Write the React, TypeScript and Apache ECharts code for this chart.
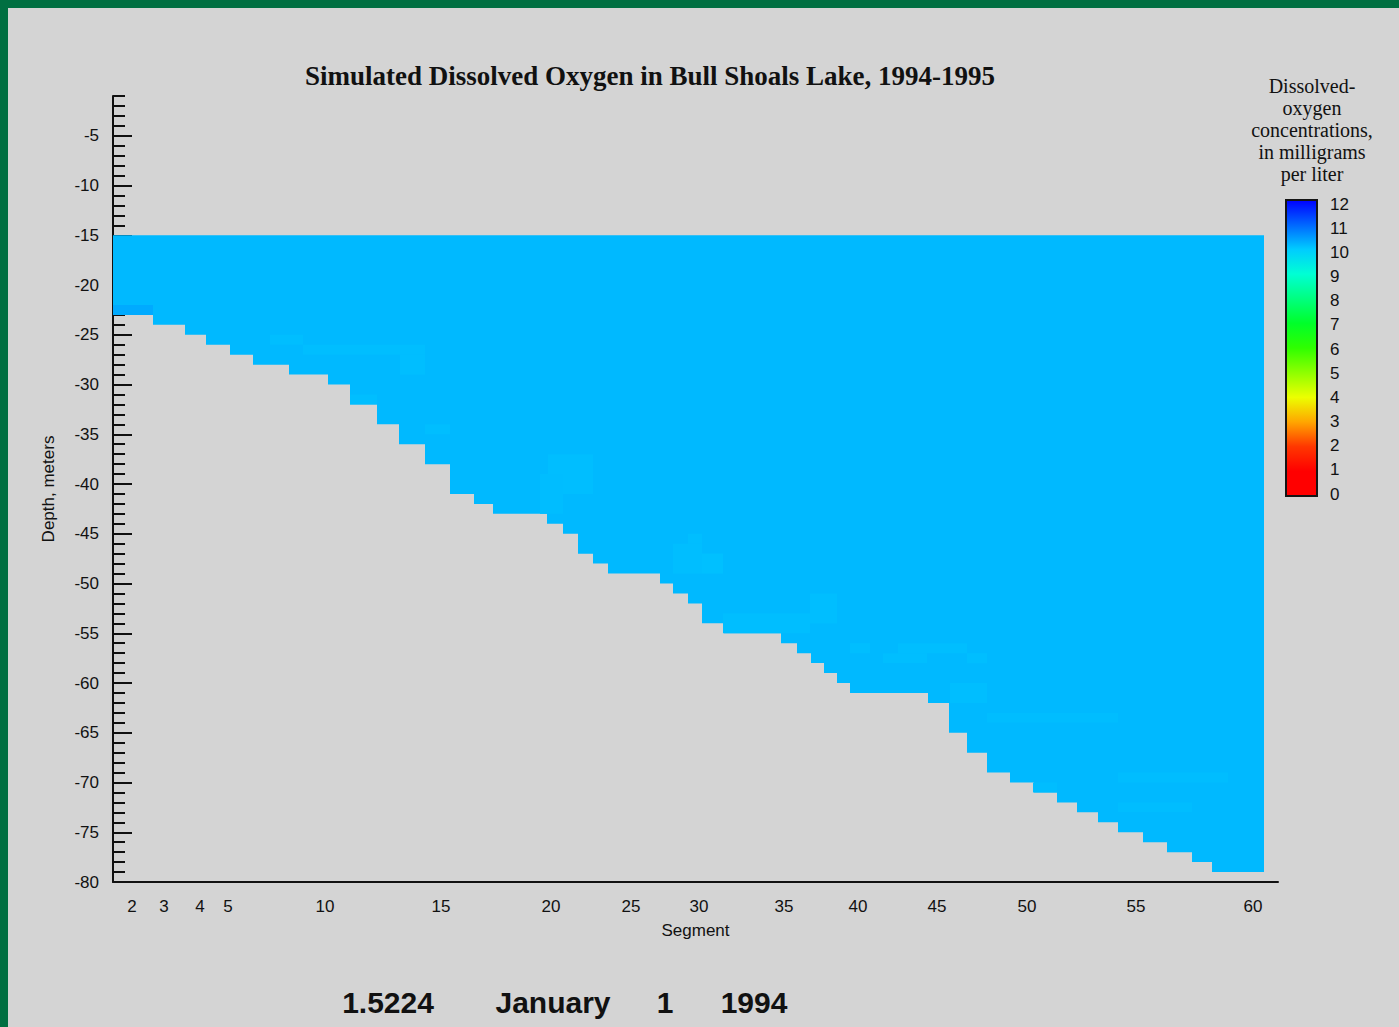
import React, { useEffect, useRef } from "react";
import * as echarts from "echarts";

// ---- Data ----
// x axis: distance along the lake (km); segments are labelled at these positions
const segmentTicks = [2, 3, 4, 5, 10, 15, 20, 25, 30, 35, 40, 45, 50, 55, 60];
const segmentTickKm = [1.9, 5.1, 8.7, 11.5, 21.2, 32.8, 43.8, 51.8, 58.6, 67.1, 74.5, 82.4, 91.4, 102.3, 114.0];

// bottom profile: start of each column (km) and bottom elevation (m)
const profileStartKm = [
  0, 4.0, 7.2, 9.3, 11.7, 14.0, 17.6, 21.5, 23.7, 26.4,
  28.6, 31.2, 33.7, 36.1, 38.0, 43.4, 45.0, 46.5, 48.0, 49.5,
  54.7, 56.0, 57.5, 58.9, 61.1, 66.8, 68.4, 69.8, 71.1, 72.4,
  73.7, 81.5, 83.6, 85.4, 87.4, 89.7, 92.1, 94.4, 96.4, 98.5,
  100.5, 103.0, 105.4, 107.9, 109.9,
];
const profileEndKm = 115.1;
const profileBottom = [
  -23, -24, -25, -26, -27, -28, -29, -30, -32, -34,
  -36, -38, -41, -42, -43, -44, -45, -47, -48, -49,
  -50, -51, -52, -54, -55, -56, -57, -58, -59, -60,
  -61, -62, -65, -67, -69, -70, -71, -72, -73, -74,
  -75, -76, -77, -78, -79,
];
const surfaceElevation = -15;
const baseDO = 10.19;

// cells whose dissolved oxygen differs slightly: [kmStart, kmEnd, top, bottom, DO]
const doPatches: number[][] = [
  [0, 4.0, -22, -23, 10.33],
  [15.7, 19.0, -25, -26, 10.14],
  [19.0, 31.2, -26, -27, 10.14],
  [28.7, 31.2, -27, -29, 10.14],
  [23.7, 26.4, -31, -32, 10.14],
  [31.2, 33.7, -34, -35, 10.14],
  [43.5, 48.0, -37, -41, 10.14],
  [42.7, 45.0, -39, -43, 10.15],
  [57.5, 58.9, -45, -46, 10.14],
  [56.0, 58.9, -46, -49, 10.14],
  [58.9, 61.0, -47, -49, 10.12],
  [61.0, 69.7, -53, -55, 10.14],
  [69.7, 72.4, -51, -54, 10.14],
  [73.7, 75.7, -56, -57, 10.14],
  [78.5, 85.4, -56, -57, 10.14],
  [77.0, 81.4, -57, -58, 10.14],
  [85.4, 87.4, -57, -58, 10.14],
  [83.7, 87.4, -60, -62, 10.14],
  [87.4, 100.5, -63, -64, 10.15],
  [100.5, 111.5, -69, -70, 10.15],
  [100.5, 107.9, -72, -73, 10.15],
  [92.0, 94.4, -70, -71, 10.15],
];

const depthMajorTicks = [-80, -75, -70, -65, -60, -55, -50, -45, -40, -35, -30, -25, -20, -15, -10, -5];
const colorbarValues = [0, 1, 2, 3, 4, 5, 6, 7, 8, 9, 10, 11, 12];
const colormap = [
  "#FF0000", "#FF0000", "#FF3700", "#FFA600", "#ECFF00", "#8EFF00", "#2FFF00",
  "#00FF2A", "#00FF80", "#00FFD4", "#00CCFF", "#0066FF", "#0000FF",
];

const chartTitle = "Simulated Dissolved Oxygen in Bull Shoals Lake, 1994-1995";
const legendTitleLines = ["Dissolved-", "oxygen", "concentrations,", "in milligrams", "per liter"];
const stampTexts = ["1.5224", "January", "1", "1994"];

// ---- Styling ----
const GREEN = "#006F41";
const BG = "#D4D4D4";
const INK = "#111111";
const SANS = '"Liberation Sans", Arial, sans-serif';
const SERIF = '"Liberation Serif", "Times New Roman", serif';

const columns = profileStartKm.map((x0, i) => [
  x0,
  i + 1 < profileStartKm.length ? profileStartKm[i + 1] : profileEndKm,
  surfaceElevation,
  profileBottom[i],
  baseDO,
]);

const renderCell = (_params: any, api: any) => {
  const p0 = api.coord([api.value(0), api.value(2)]);
  const p1 = api.coord([api.value(1), api.value(3)]);
  return {
    type: "rect",
    shape: { x: p0[0], y: p0[1], width: p1[0] - p0[0], height: p1[1] - p0[1] },
    style: { fill: api.visual("color") },
  };
};

const gradientStops = colorbarValues
  .map((v, i) => ({ offset: 1 - v / 12, color: colormap[i] }))
  .reverse();

const renderColorbar = (_params: any, api: any) => {
  const tl = api.coord([api.value(0), api.value(3)]);
  const br = api.coord([api.value(1), api.value(2)]);
  return {
    type: "rect",
    shape: { x: tl[0], y: tl[1] - 4, width: br[0] - tl[0], height: br[1] - tl[1] + 6 },
    style: {
      fill: { type: "linear", x: 0, y: 0, x2: 0, y2: 1, colorStops: gradientStops },
      stroke: "#151515",
      lineWidth: 2,
    },
  };
};

const legendLineY = [86, 108, 130, 152, 174];
const stampX = [388, 553, 665, 754];

const option: any = {
  animation: false,
  backgroundColor: BG,
  grid: [
    { left: 113, top: 96, width: 1165, height: 786 },
    { left: 1286, top: 204, width: 31, height: 290 },
  ],
  xAxis: [
    {
      type: "value",
      gridIndex: 0,
      min: 0,
      max: 116.5,
      axisLine: { show: true, onZero: false, lineStyle: { color: INK, width: 2 } },
      axisTick: { show: false },
      splitLine: { show: false },
      axisLabel: {
        customValues: segmentTickKm,
        formatter: (v: number) => {
          const i = segmentTickKm.findIndex((k) => Math.abs(k - v) < 1e-6);
          return i >= 0 ? String(segmentTicks[i]) : "";
        },
        color: INK,
        fontSize: 17,
        fontFamily: SANS,
        margin: 16,
      },
      name: "Segment",
      nameLocation: "middle",
      nameGap: 40,
      nameTextStyle: { color: INK, fontSize: 17, fontFamily: SANS },
    },
    { type: "value", gridIndex: 1, min: 0, max: 1, show: false },
  ],
  yAxis: [
    {
      type: "value",
      gridIndex: 0,
      min: -80,
      max: -1,
      interval: 5,
      axisLine: { show: true, onZero: false, lineStyle: { color: INK, width: 2 } },
      axisTick: {
        show: true,
        inside: true,
        length: 19,
        customValues: depthMajorTicks,
        lineStyle: { color: INK, width: 2 },
      },
      axisLabel: {
        customValues: depthMajorTicks,
        color: INK,
        fontSize: 17,
        fontFamily: SANS,
        margin: 14,
      },
      splitLine: { show: false },
      name: "Depth, meters",
      nameLocation: "middle",
      nameRotate: 90,
      nameGap: 56,
      nameTextStyle: { color: INK, fontSize: 17, fontFamily: SANS },
    },
    {
      type: "value",
      gridIndex: 0,
      min: -80,
      max: -1,
      interval: 1,
      position: "left",
      axisLine: { show: false },
      axisTick: { show: true, inside: true, length: 12, lineStyle: { color: INK, width: 2 } },
      axisLabel: { show: false },
      splitLine: { show: false },
    },
    {
      type: "value",
      gridIndex: 1,
      min: 0,
      max: 12,
      interval: 1,
      position: "right",
      axisLine: { show: false },
      axisTick: { show: false },
      axisLabel: { color: INK, fontSize: 17, fontFamily: SANS, margin: 13 },
      splitLine: { show: false },
    },
  ],
  visualMap: {
    type: "continuous",
    show: false,
    min: 0,
    max: 12,
    dimension: 4,
    seriesIndex: [0, 1],
    inRange: { color: colormap },
  },
  series: [
    {
      type: "custom",
      xAxisIndex: 0,
      yAxisIndex: 0,
      renderItem: renderCell,
      data: columns,
      encode: { x: [0, 1], y: [2, 3] },
      silent: true,
    },
    {
      type: "custom",
      xAxisIndex: 0,
      yAxisIndex: 0,
      renderItem: renderCell,
      data: doPatches,
      encode: { x: [0, 1], y: [2, 3] },
      silent: true,
    },
    {
      type: "custom",
      xAxisIndex: 1,
      yAxisIndex: 2,
      renderItem: renderColorbar,
      data: [[0, 1, colorbarValues[0], colorbarValues[colorbarValues.length - 1]]],
      encode: { x: [0, 1], y: [2, 3] },
      silent: true,
    },
  ],
  graphic: [
    {
      type: "text",
      x: 650,
      y: 76,
      style: {
        text: chartTitle,
        fill: INK,
        font: `bold 27px ${SERIF}`,
        align: "center",
        verticalAlign: "middle",
        textAlign: "center",
        textVerticalAlign: "middle",
      },
    },
    ...legendTitleLines.map((t, i) => ({
      type: "text",
      x: 1312,
      y: legendLineY[i],
      style: {
        text: t,
        fill: INK,
        font: `20px ${SERIF}`,
        align: "center",
        verticalAlign: "middle",
        textAlign: "center",
        textVerticalAlign: "middle",
      },
    })),
    ...stampTexts.map((t, i) => ({
      type: "text",
      x: stampX[i],
      y: 1002,
      style: {
        text: t,
        fill: INK,
        font: `bold 30px ${SANS}`,
        align: "center",
        verticalAlign: "middle",
        textAlign: "center",
        textVerticalAlign: "middle",
      },
    })),
  ],
};

export default function App() {
  const ref = useRef<HTMLDivElement>(null);
  useEffect(() => {
    if (!ref.current) return;
    const chart = echarts.init(ref.current, null, { renderer: "svg" });
    chart.setOption(option);
    return () => chart.dispose();
  }, []);
  return (
    <div style={{ position: "absolute", left: 0, top: 0, width: 1399, height: 1027, overflow: "hidden" }}>
      <div ref={ref} style={{ position: "absolute", left: 0, top: 0, width: 1399, height: 1027 }} />
      <div style={{ position: "absolute", left: 0, top: 0, width: 1399, height: 8, background: GREEN }} />
      <div style={{ position: "absolute", left: 0, top: 0, width: 8, height: 1027, background: GREEN }} />
    </div>
  );
}
